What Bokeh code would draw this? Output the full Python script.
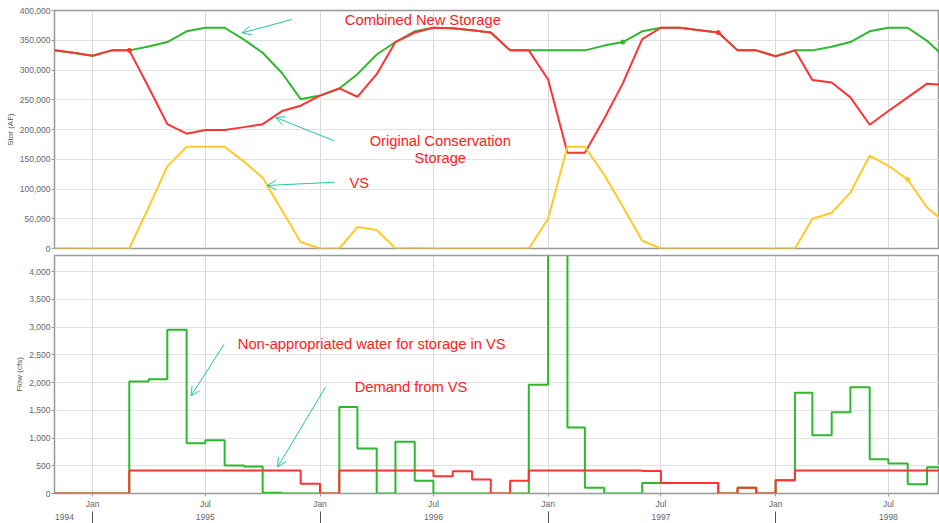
import pandas as pd
from datetime import datetime
from bokeh.plotting import figure
from bokeh.layouts import column
from bokeh.models import (Range1d, FixedTicker, NumeralTickFormatter, CustomJSTickFormatter,
                          LinearAxis, Label, Arrow, OpenHead)
from bokeh.embed import file_html
from bokeh.resources import INLINE

FONT = "Liberation Sans"
GREEN = "#2DB82D"
RED = "#FF3333"
YELLOW = "#FFC926"
TEAL = "#1FC9A0"
TXT_RED = "#FF2020"

# ---------------- data (monthly, Nov 1994 .. Oct 1998) ----------------
months = pd.date_range("1994-11-01", "1998-10-01", freq="MS")

orig_conservation = [333000, 329000, 324000, 333000, 333000, 271000, 209000, 193000, 199000, 199000,
                     204000, 209000, 231000, 240000, 257000, 269000, 255000, 293000, 347000, 363000,
                     371000, 370000, 367000, 363000, 333000, 333000, 284000, 161000, 161000, 218000,
                     278000, 352000, 371000, 371000, 367000, 363000, 333000, 333000, 323000, 333000,
                     283000, 279000, 254000, 208000, 231000, 254000, 277000, 275000]
combined_new = [333000, 329000, 324000, 333000, 333000, 339500, 347000, 365000, 371000, 371000,
                351000, 329000, 295000, 251000, 257000, 269000, 293000, 326000, 347000, 365000,
                371000, 370000, 367000, 363000, 333000, 333000, 333000, 333000, 333000, 341000,
                347000, 365000, 371000, 371000, 367000, 363000, 333000, 333000, 323000, 333000,
                333000, 339000, 347000, 365000, 371000, 371000, 349000, 320000]
vs_storage = [0, 0, 0, 0, 0, 69000, 138000, 171000, 171000, 171000,
              146000, 119000, 64000, 11000, 0, 0, 36000, 31000, 0, 1000,
              0, 0, 0, 0, 0, 0, 50000, 171000, 171000, 124000,
              70000, 13000, 0, 0, 0, 0, 0, 0, 0, 0,
              50000, 60000, 94000, 156000, 139000, 116000, 69000, 43000]

non_appropriated = [0, 0, 0, 0, 2020, 2060, 2950, 905, 960, 505,
                    485, 12, 0, 0, 0, 1560, 810, 0, 935, 228,
                    0, 0, 0, 0, 0, 1958, 5500, 1190, 102, 0,
                    0, 191, 191, 191, 191, 0, 102, 0, 240, 1814,
                    1051, 1465, 1916, 619, 541, 168, 474, 474]
demand_vs = [0, 0, 0, 0, 414, 414, 414, 414, 414, 414,
             414, 414, 414, 174, 0, 414, 414, 414, 414, 414,
             312, 402, 252, 0, 228, 414, 414, 414, 414, 414,
             414, 407, 191, 191, 191, 0, 102, 0, 240, 414,
             414, 414, 414, 414, 414, 414, 414, 414]

month_tick_dates = ["1995-01-01", "1995-07-01", "1996-01-01", "1996-07-01",
                    "1997-01-01", "1997-07-01", "1998-01-01", "1998-07-01"]
year_label_dates = ["1994-11-17", "1995-07-01", "1996-07-01", "1997-07-01", "1998-07-01"]
year_sep_dates = ["1995-01-01", "1996-01-01", "1997-01-01", "1998-01-01"]
stor_ticks = list(range(0, 400001, 50000))
flow_ticks = list(range(0, 4001, 500))


def ms(d):
    return pd.Timestamp(d).value / 1e6


month_ticks = [ms(d) for d in month_tick_dates]
xr = Range1d(datetime(1994, 11, 1), datetime(1998, 9, 21))


def style_yaxis(ax, label):
    ax.axis_label = label
    ax.axis_label_text_font = FONT
    ax.axis_label_text_font_size = "8px"
    ax.axis_label_text_font_style = "normal"
    ax.axis_label_text_color = "#555555"
    ax.axis_label_standoff = 2
    ax.major_label_text_font = FONT
    ax.major_label_text_font_size = "8.5px"
    ax.major_label_text_color = "#666666"
    ax.major_label_standoff = 1
    ax.axis_line_color = "#999999"
    ax.major_tick_line_color = "#999999"
    ax.major_tick_out = 3
    ax.major_tick_in = 0
    ax.minor_tick_line_color = None
    ax.formatter = NumeralTickFormatter(format="0,0")


def style_fig(p):
    p.outline_line_color = "#999999"
    p.outline_line_width = 1.5
    p.xgrid.ticker = FixedTicker(ticks=month_ticks)
    p.xgrid.grid_line_color = "#DADADA"
    p.ygrid.grid_line_color = "#E2E2E2"


# ---------------- top: storage ----------------
p1 = figure(width=939, height=252, x_range=xr, y_range=Range1d(0, 400000),
            x_axis_type="datetime", output_backend="svg", toolbar_location=None,
            min_border_left=54, min_border_right=0, min_border_top=10, min_border_bottom=4)
p1.xaxis.visible = False
style_fig(p1)
p1.yaxis.ticker = FixedTicker(ticks=stor_ticks)
style_yaxis(p1.yaxis[0], "Stor (AF)")
p1.ygrid.ticker = FixedTicker(ticks=stor_ticks)

p1.line(months, combined_new, line_color=GREEN, line_width=2)
p1.line(months, orig_conservation, line_color=RED, line_width=2)
p1.line(months, vs_storage, line_color=YELLOW, line_width=2)
p1.scatter([months[4]], [orig_conservation[4]], size=4, color=RED)
p1.scatter([months[35]], [orig_conservation[35]], size=4, color=RED)
p1.scatter([months[30]], [combined_new[30]], size=4, color=GREEN)
p1.scatter([months[45]], [vs_storage[45]], size=4, color=YELLOW)


def add_label(p, x, y, text):
    p.add_layout(Label(x=ms(x), y=y, text=text, text_font=FONT, text_font_size="14.7px",
                       text_color=TXT_RED, text_align="center", text_baseline="middle"))


def add_arrow(p, x0, y0, x1, y1):
    p.add_layout(Arrow(x_start=ms(x0), y_start=y0, x_end=ms(x1), y_end=y1,
                       line_color=TEAL, line_width=1,
                       end=OpenHead(size=9, line_color=TEAL, line_width=1)))


add_label(p1, "1996-06-14", 383700, "Combined New Storage")
add_label(p1, "1996-07-12", 180300, "Original Conservation")
add_label(p1, "1996-07-12", 151800, "Storage")
add_label(p1, "1996-03-04", 110600, "VS")
add_arrow(p1, "1995-11-17", 384900, "1995-08-29", 362400)
add_arrow(p1, "1996-01-24", 180800, "1995-10-22", 220200)
add_arrow(p1, "1996-01-24", 111400, "1995-10-08", 105900)

# ---------------- bottom: flow ----------------
p2 = figure(width=939, height=271, x_range=xr, y_range=Range1d(0, 4290),
            x_axis_type="datetime", output_backend="svg", toolbar_location=None,
            min_border_left=54, min_border_right=0, min_border_top=3, min_border_bottom=30)
style_fig(p2)
p2.yaxis.ticker = FixedTicker(ticks=flow_ticks)
style_yaxis(p2.yaxis[0], "Flow (cfs)")
p2.ygrid.ticker = FixedTicker(ticks=flow_ticks)

xa = p2.xaxis[0]
xa.ticker = FixedTicker(ticks=month_ticks)
xa.formatter = CustomJSTickFormatter(code="""
const names = ['Jan','Feb','Mar','Apr','May','Jun','Jul','Aug','Sep','Oct','Nov','Dec'];
return names[new Date(tick).getUTCMonth()];
""")
xa.major_label_text_font = FONT
xa.major_label_text_font_size = "8.5px"
xa.major_label_text_color = "#666666"
xa.major_label_standoff = 2
xa.axis_line_color = "#999999"
xa.major_tick_line_color = "#999999"
xa.major_tick_out = 3
xa.major_tick_in = 0
xa.minor_tick_line_color = None

ya = LinearAxis(ticker=FixedTicker(ticks=[ms(d) for d in year_label_dates],
                                   minor_ticks=[ms(d) for d in year_sep_dates]),
                formatter=CustomJSTickFormatter(code="return String(new Date(tick).getUTCFullYear());"))
ya.axis_line_color = None
ya.major_tick_line_color = None
ya.major_tick_out = 0
ya.major_tick_in = 0
ya.minor_tick_line_color = "#555555"
ya.minor_tick_out = 12
ya.minor_tick_in = 0
ya.major_label_text_font = FONT
ya.major_label_text_font_size = "8.5px"
ya.major_label_text_color = "#666666"
ya.major_label_standoff = -10
p2.add_layout(ya, "below")

p2.step(months, non_appropriated, mode="after", line_color=GREEN, line_width=2)
p2.step(months, demand_vs, mode="after", line_color=RED, line_width=2)

add_label(p2, "1996-03-24", 2690, "Non-appropriated water for storage in VS")
add_label(p2, "1996-05-26", 1915, "Demand from VS")
add_arrow(p2, "1995-07-31", 2690, "1995-06-08", 1759)
add_arrow(p2, "1996-01-10", 1921, "1995-10-25", 479)

layout = column(p1, p2)
open("out.html", "w").write(file_html(layout, INLINE))
